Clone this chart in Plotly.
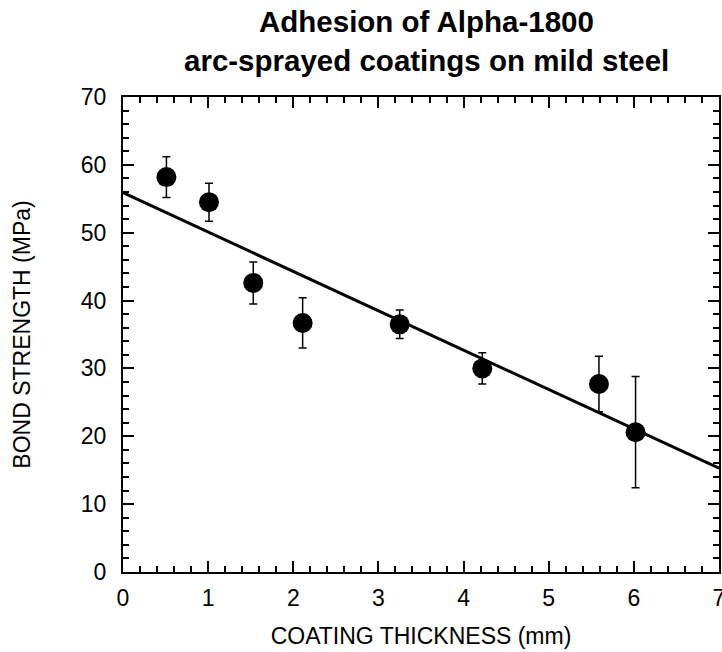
import plotly.graph_objects as go

thickness_mm = [0.51, 1.01, 1.53, 2.11, 3.25, 4.22, 5.59, 6.02]
bond_mpa = [58.2, 54.5, 42.6, 36.7, 36.5, 30.0, 27.7, 20.6]
bond_err = [3.0, 2.8, 3.1, 3.7, 2.1, 2.3, 4.1, 8.2]

fit_x = [0.0, 7.0]
fit_y = [55.9, 15.3]

title_lines = ["Adhesion of Alpha-1800", "arc-sprayed coatings on mild steel"]
x_title = "COATING THICKNESS (mm)"
y_title = "BOND STRENGTH (MPa)"

FONT = "Liberation Sans, Arial, sans-serif"

fig = go.Figure()
fig.add_trace(go.Scatter(
    x=fit_x, y=fit_y, mode="lines",
    line=dict(color="black", width=3),
    showlegend=False, hoverinfo="skip",
))
fig.add_trace(go.Scatter(
    x=thickness_mm, y=bond_mpa, mode="markers",
    marker=dict(color="black", size=20),
    error_y=dict(type="data", array=bond_err, visible=True,
                 color="black", thickness=1.5, width=4),
    showlegend=False,
))

axis_common = dict(
    showgrid=False, zeroline=False, showline=True, linecolor="black",
    linewidth=2, mirror="allticks", ticks="inside", tickcolor="black",
    tickwidth=1.5, ticklen=11, ticklabeloverflow="allow",
    tickfont=dict(family=FONT, size=23, color="black"),
)

fig.update_xaxes(
    range=[0, 7], dtick=1, tick0=0,
    minor=dict(dtick=0.2, ticks="inside", ticklen=6, tickcolor="black", tickwidth=1.5),
    title=dict(text=x_title, font=dict(family=FONT, size=23, color="black"), standoff=18),
    ticklabelstandoff=4,
    **axis_common,
)
fig.update_yaxes(
    range=[0, 70], dtick=10, tick0=0,
    minor=dict(dtick=2, ticks="inside", ticklen=6, tickcolor="black", tickwidth=1.5),
    title=dict(text=y_title, font=dict(family=FONT, size=23, color="black"), standoff=44),
    ticklabelstandoff=10,
    **axis_common,
)

plot_top, plot_bottom, plot_left, plot_right = 97, 572, 123, 719
ph = plot_bottom - plot_top
pw = plot_right - plot_left

for text, py in zip(title_lines, [21, 61]):
    fig.add_annotation(
        text="<b>" + text + "</b>", showarrow=False,
        xref="paper", yref="paper",
        x=(426 - plot_left) / pw, y=(plot_bottom - py) / ph,
        xanchor="center", yanchor="middle",
        font=dict(family=FONT, size=29.5, color="black"),
    )

fig.update_layout(
    width=722, height=652,
    margin=dict(l=plot_left, r=722 - plot_right, t=plot_top, b=652 - plot_bottom,
                autoexpand=False),
    paper_bgcolor="white", plot_bgcolor="white",
)

fig.write_html("out.html", config={"displayModeBar": False},
               post_script="document.body.style.margin='0';")
